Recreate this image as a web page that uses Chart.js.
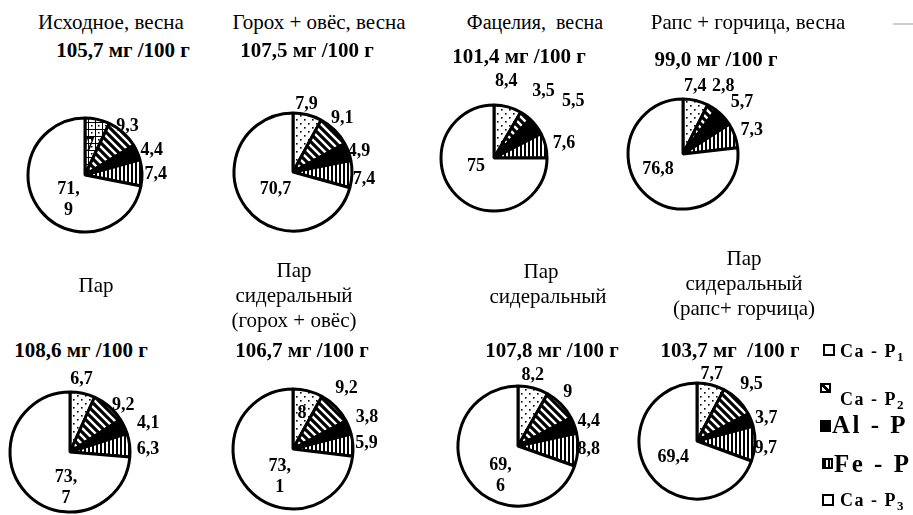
<!DOCTYPE html>
<html><head><meta charset="utf-8">
<script src="https://cdn.jsdelivr.net/npm/chart.js@4.4.1/dist/chart.umd.min.js"></script>
<style>
html,body{margin:0;padding:0;background:#fff;}
body{width:913px;height:515px;overflow:hidden;position:relative;font-family:"Liberation Serif","Times New Roman",serif;color:#000;}
.t{position:absolute;width:300px;text-align:center;white-space:pre;font-size:21px;line-height:25px;}
.v{font-weight:bold;}
canvas{position:absolute;}
.lg{position:absolute;font-weight:bold;white-space:pre;}
.lg sub{font-size:13px;vertical-align:-4px;line-height:0;}
.bx{position:absolute;box-sizing:border-box;border:2px solid #000;background:#fff;}
.gr{position:absolute;left:893px;top:23px;width:20px;height:2px;background:#d0d0d0;}
</style></head><body>
<div class="gr"></div>
<script>
// ---------- DATA ----------
const components = ['Ca - P1', 'Ca - P2', 'Al - P', 'Fe - P', 'Ca - P3'];
const panelTitles = [
  'Исходное, весна',
  'Горох + овёс, весна',
  'Фацелия,  весна',
  'Рапс + горчица, весна',
  'Пар',
  'Пар\nсидеральный\n(горох + овёс)',
  'Пар\nсидеральный',
  'Пар\nсидеральный\n(рапс+ горчица)'
];
const totals = ['105,7 мг /100 г', '107,5 мг /100 г', '101,4 мг /100 г', '99,0 мг /100 г',
                '108,6 мг /100 г', '106,7 мг /100 г', '107,8 мг /100 г', '103,7 мг  /100 г'];
const ishodnoeVesna    = [7, 9.3, 4.4, 7.4, 71.9];
const gorohOvesVesna   = [7.9, 9.1, 4.9, 7.4, 70.7];
const faceliyaVesna    = [8.4, 3.5, 5.5, 7.6, 75];
const rapsGorchVesna   = [7.4, 2.8, 5.7, 7.3, 76.8];
const par              = [6.7, 9.2, 4.1, 6.3, 73.7];
const parSiderGoroh    = [8, 9.2, 3.8, 5.9, 73.1];
const parSider         = [8.2, 9, 4.4, 8.8, 69.6];
const parSiderRaps     = [7.7, 9.5, 3.7, 9.7, 69.4];
const panelValues = [ishodnoeVesna, gorohOvesVesna, faceliyaVesna, rapsGorchVesna,
                     par, parSiderGoroh, parSider, parSiderRaps];

// ---------- LAYOUT / STYLE ----------
const pieLayout = [
  {cx:85, cy:175, r:57}, {cx:293, cy:172, r:59}, {cx:494, cy:158, r:53}, {cx:683, cy:154, r:55},
  {cx:70, cy:452, r:60}, {cx:293, cy:449, r:60}, {cx:518, cy:446, r:60}, {cx:697, cy:441, r:58}
];
// [radius factor, angle shift in degrees] for each slice label
const labelPlace = [
  [[0.52,-3],[1.14,-1],[1.25,3],[1.24,2],[0.52,-17]],
  [[1.17,-3],[1.24,-2.5],[1.17,3],[1.21,4],[0.42,-8]],
  [[1.47,-6],[1.57,0],[1.84,1.5],[1.35,1.6],[0.37,21]],
  [[1.25,-3],[1.43,-1],[1.42,2],[1.32,1],[0.53,17]],
  [[1.22,-3],[1.18,8],[1.39,5],[1.3,5],[0.59,-41]],
  [[0.61,0],[1.35,-4],[1.34,-2],[1.23,-1],[0.51,-23]],
  [[1.2,-3],[1.22,-3],[1.25,1],[1.18,-1],[0.57,-24]],
  [[1.18,-1.5],[1.36,-1],[1.26,3],[1.19,3],[0.5,0]]
];
const wrapBig = [true,false,false,false,true,true,true,false];
const titleLayout = [
  {x:111,y:10,fs:21},{x:319,y:10,fs:21},{x:535,y:10,fs:20},{x:748,y:10,fs:21},
  {x:96,y:273,fs:21},{x:294,y:258,fs:21},{x:548,y:259,fs:21},{x:744,y:246,fs:21}
];
const totalLayout = [
  {x:123,y:38},{x:307,y:38},{x:519,y:44},{x:716,y:47},
  {x:81,y:338},{x:302,y:338},{x:552,y:338},{x:730,y:338}
];

function makePattern(type){
  const c = document.createElement('canvas');
  const g = c.getContext('2d');
  if (type === 'dots') {
    c.width = 8; c.height = 8;
    g.fillStyle = '#fff'; g.fillRect(0,0,8,8);
    g.fillStyle = '#000'; g.fillRect(1,1,1.6,1.6); g.fillRect(5,5,1.6,1.6);
  } else if (type === 'grid') {
    c.width = 7; c.height = 7;
    g.fillStyle = '#fff'; g.fillRect(0,0,7,7);
    g.fillStyle = '#000'; g.fillRect(0,0,7,1); g.fillRect(0,0,1,7); g.fillRect(3,3,1.5,1.5);
  } else if (type === 'diag') {
    c.width = 8; c.height = 8;
    g.fillStyle = '#fff'; g.fillRect(0,0,8,8);
    g.strokeStyle = '#000'; g.lineWidth = 3.2;
    g.beginPath();
    g.moveTo(-2,-2); g.lineTo(10,10);
    g.moveTo(-2,6); g.lineTo(2,10);
    g.moveTo(6,-2); g.lineTo(10,2);
    g.stroke();
  } else if (type === 'vert') {
    c.width = 4; c.height = 4;
    g.fillStyle = '#fff'; g.fillRect(0,0,4,4);
    g.fillStyle = '#000'; g.fillRect(0,0,2,4);
  }
  return g.createPattern(c, 'repeat');
}

function fmt(v){ return String(v).replace('.', ','); }

const valueLabels = {
  id: 'valueLabels',
  afterDatasetsDraw(chart, args, opts) {
    const ctx = chart.ctx;
    const meta = chart.getDatasetMeta(0);
    const vals = chart.data.datasets[0].data;
    ctx.save();
    ctx.font = 'bold 18px "Liberation Serif", serif';
    ctx.fillStyle = '#000'; ctx.textAlign = 'center'; ctx.textBaseline = 'middle';
    meta.data.forEach((arc, i) => {
      const p = arc.getProps(['x','y','startAngle','endAngle','outerRadius'], true);
      const pl = opts.place[i];
      const a = (p.startAngle + p.endAngle) / 2 + pl[1] * Math.PI / 180;
      const d = pl[0] * p.outerRadius;
      const x = p.x + Math.cos(a) * d, y = p.y + Math.sin(a) * d;
      const txt = fmt(vals[i]);
      if (opts.wrap && i === vals.length - 1 && txt.indexOf(',') >= 0) {
        const parts = txt.split(',');
        ctx.fillText(parts[0] + ',', x, y - 10);
        ctx.fillText(parts[1], x, y + 11);
      } else {
        ctx.fillText(txt, x, y);
      }
    });
    ctx.restore();
  }
};

const CS = 260;
panelValues.forEach((vals, k) => {
  const tl = titleLayout[k];
  const t = document.createElement('div');
  t.className = 't';
  t.style.left = (tl.x - 150) + 'px'; t.style.top = tl.y + 'px'; t.style.fontSize = tl.fs + 'px';
  if (k === 6) {
    const lines = panelTitles[k].split('\n');
    t.innerHTML = '<span style="position:relative;left:-7px">' + lines[0] + '</span>\n' + lines[1];
  } else {
    t.textContent = panelTitles[k];
  }
  document.body.appendChild(t);
  const tv = totalLayout[k];
  const v = document.createElement('div');
  v.className = 't v';
  v.style.left = (tv.x - 150) + 'px'; v.style.top = tv.y + 'px';
  v.textContent = totals[k];
  document.body.appendChild(v);
  const L = pieLayout[k];
  const cv = document.createElement('canvas');
  cv.width = CS; cv.height = CS;
  cv.style.left = (L.cx - CS/2) + 'px'; cv.style.top = (L.cy - CS/2) + 'px';
  cv.style.width = CS + 'px'; cv.style.height = CS + 'px';
  document.body.appendChild(cv);
  const pad = CS/2 - L.r - 1.5;
  new Chart(cv.getContext('2d'), {
    type: 'pie',
    data: {
      labels: components,
      datasets: [{
        data: vals,
        backgroundColor: [makePattern(k === 0 ? 'grid' : 'dots'), makePattern('diag'), '#000', makePattern('vert'), '#fff'],
        borderColor: '#000',
        borderWidth: 3
      }]
    },
    options: {
      responsive: false,
      animation: false,
      events: [],
      layout: { padding: pad },
      plugins: {
        legend: { display: false },
        tooltip: { enabled: false },
        valueLabels: { place: labelPlace[k], wrap: wrapBig[k] }
      }
    },
    plugins: [valueLabels]
  });
});

// legend
const legendLayout = [
  {bx:823, by:344, bw:12, bh:12, fill:'#fff', tx:840, ty:342, fs:18, ls:1.5},
  {bx:820, by:383, bw:11, bh:10, fill:'linear-gradient(45deg,#fff 38%,#000 38%,#000 62%,#fff 62%)', tx:840, ty:390, fs:18, ls:1.5},
  {bx:820, by:420, bw:11, bh:12, fill:'#000', tx:832, ty:412, fs:25, ls:2.5},
  {bx:822, by:458, bw:11, bh:11, fill:'repeating-linear-gradient(90deg,#000 0 2px,#fff 2px 4px)', tx:834, ty:451, fs:25, ls:2.5},
  {bx:822, by:494, bw:12, bh:12, fill:'#fff', tx:840, ty:491, fs:18, ls:1.5}
];
components.forEach((name, i) => {
  const l = legendLayout[i];
  const b = document.createElement('div');
  b.className = 'bx';
  b.style.left = l.bx + 'px'; b.style.top = l.by + 'px';
  b.style.width = l.bw + 'px'; b.style.height = l.bh + 'px';
  b.style.background = l.fill;
  document.body.appendChild(b);
  const s = document.createElement('div');
  s.className = 'lg';
  s.style.left = l.tx + 'px'; s.style.top = l.ty + 'px';
  s.style.fontSize = l.fs + 'px'; s.style.lineHeight = l.fs + 'px';
  s.style.letterSpacing = l.ls + 'px';
  const m = name.match(/^(.*P)(\d)$/);
  if (m) { s.innerHTML = m[1] + '<sub>' + m[2] + '</sub>'; } else { s.textContent = name; }
  document.body.appendChild(s);
});
</script>
</body></html>
